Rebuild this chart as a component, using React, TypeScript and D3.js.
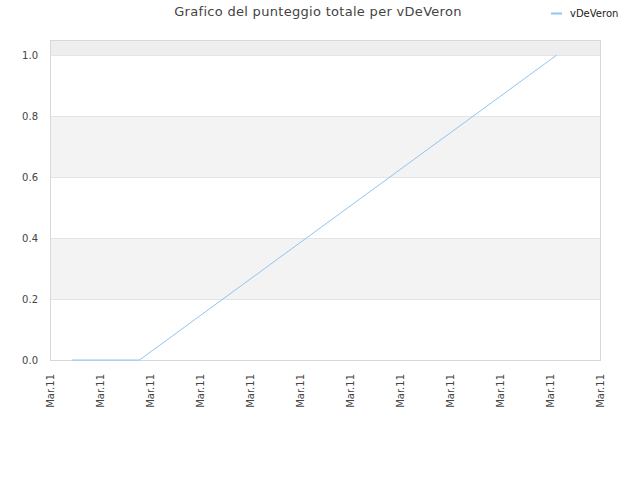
import React from "react";
import * as d3 from "d3";

const seriesName = "vDeVeron";
const titleText = "Grafico del punteggio totale per vDeVeron";
const xTickValues = [0, 1, 2, 3, 4, 5, 6, 7, 8, 9, 10, 11];
const xTickLabel = "Mar.11";
const yTickValues = [0, 0.2, 0.4, 0.6, 0.8, 1.0];
const pointX = [0.44, 1.79, 10.13];
const pointY = [0, 0, 1];

export default function App() {
  const W = 640, H = 480;
  const left = 50, right = 600, top = 40, bottom = 360;
  const x = d3.scaleLinear().domain([0, 11]).range([left, right]);
  const y = d3.scaleLinear().domain([0, 1.05]).range([bottom, top]);
  const data = pointX.map((v, i) => [v, pointY[i]] as [number, number]);
  const line = d3.line<[number, number]>().x(d => x(d[0])).y(d => y(d[1]));
  const font = "DejaVu Sans, sans-serif";
  const bands = [
    { a: 1.0, b: 1.05, c: "#eeeeee" },
    { a: 0.6, b: 0.8, c: "#f3f3f3" },
    { a: 0.2, b: 0.4, c: "#f3f3f3" },
  ];
  return (
    <svg width={W} height={H} style={{ position: "absolute", left: 0, top: 0 }}>
      <rect width={W} height={H} fill="#ffffff" />
      {bands.map((b, i) => (
        <rect key={i} x={left} y={y(b.b)} width={right - left} height={y(b.a) - y(b.b)} fill={b.c} />
      ))}
      {yTickValues.map((t, i) => (
        <g key={i}>
          <line x1={left} x2={right} y1={Math.round(y(t)) + 0.5} y2={Math.round(y(t)) + 0.5} stroke="#e4e4e4" />
          <text x={38} y={y(t) + 4} textAnchor="end" fontFamily={font} fontSize={10} fill="#444">{t.toFixed(1)}</text>
        </g>
      ))}
      <rect x={left + 0.5} y={top + 0.5} width={right - left} height={bottom - top} fill="none" stroke="#d8d8d8" />
      <path d={line(data) || ""} fill="none" stroke="#90c4f3" strokeWidth={1} />
      {xTickValues.map((t, i) => (
        <text key={i} transform={`translate(${x(t) + 4},${374}) rotate(-90)`} textAnchor="end" fontFamily={font} fontSize={10} fill="#444">{xTickLabel}</text>
      ))}
      <text x={318} y={16} textAnchor="middle" fontFamily={font} fontSize={13} fill="#444" letterSpacing={0.3}>{titleText}</text>
      <line x1={551} x2={562} y1={13.5} y2={13.5} stroke="#90c4f3" strokeWidth={2} />
      <text x={570} y={17} fontFamily={font} fontSize={10} fill="#222">{seriesName}</text>
    </svg>
  );
}
